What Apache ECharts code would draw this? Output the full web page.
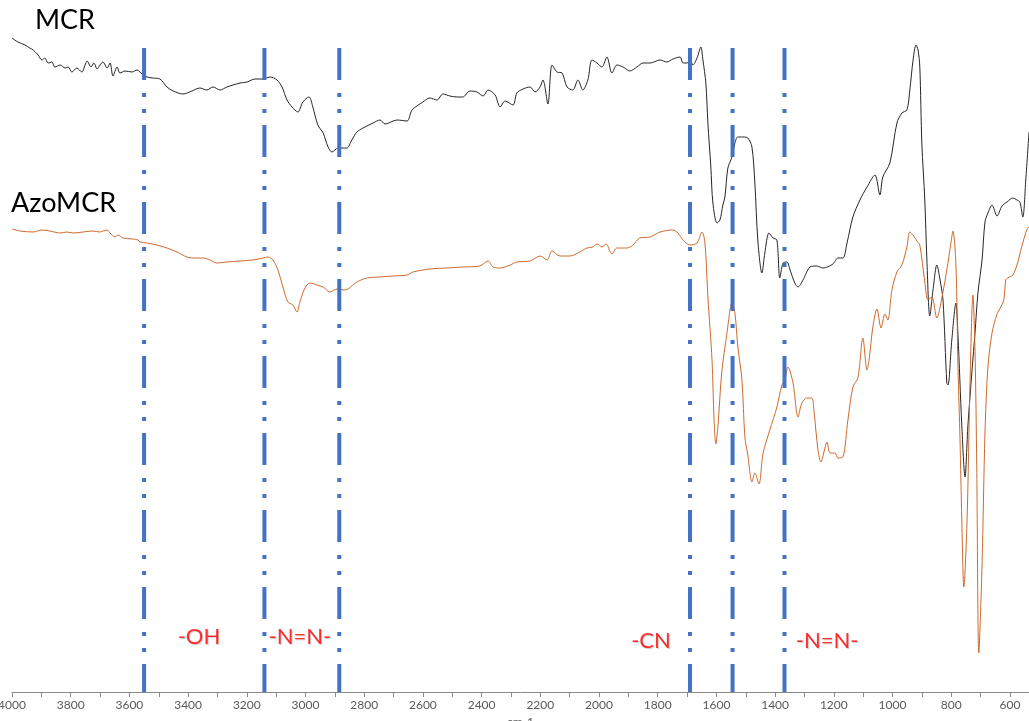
<!DOCTYPE html>
<html>
<head>
<meta charset="utf-8">
<title>FTIR: MCR / AzoMCR</title>
<script src="https://cdn.jsdelivr.net/npm/echarts@6/dist/echarts.min.js"></script>
<style>
  html, body { margin: 0; padding: 0; background: #ffffff; }
  #chart { width: 1029px; height: 721px; }
</style>
</head>
<body>
<div id="chart"></div>
<script>
// Wavenumber (cm-1) and transmittance (a.u., traces offset vertically)
const mcrWn = [4000,3980,3956,3939,3928,3911,3898,3888,3877,3864,3854,3836,3819,3809,3796,3779,3762,3751,3744,3731,3721,3710,3700,3690,3676,3666,3656,3642,3632,3615,3591,3574,3557,3540,3520,3496,3472,3451,3417,3387,3360,3336,3315,3291,3268,3247,3223,3199,3172,3145,3121,3097,3080,3063,3046,3026,3009,2988,2975,2958,2940,2923,2910,2889,2876,2859,2842,2825,2804,2770,2746,2729,2688,2654,2637,2600,2576,2552,2532,2508,2484,2464,2440,2416,2395,2378,2354,2337,2320,2293,2280,2259,2235,2218,2201,2191,2174,2160,2143,2126,2109,2089,2072,2055,2038,2024,2007,1990,1973,1956,1939,1918,1895,1871,1850,1826,1792,1769,1748,1724,1714,1700,1690,1680,1666,1653,1646,1636,1629,1619,1612,1598,1588,1578,1571,1561,1547,1537,1527,1510,1493,1479,1469,1459,1445,1435,1421,1407,1394,1384,1373,1360,1349,1333,1322,1305,1281,1258,1237,1203,1186,1169,1155,1135,1111,1087,1060,1043,1033,1009,985,968,951,941,930,920,913,907,900,890,883,873,862,849,838,828,815,811,798,784,777,764,753,743,729,719,709,695,685,675,661,644,627,610,590,576,566,556,546,535];
const mcrT = [65.4,65.0,64.7,64.4,64.2,63.7,63.2,63.4,62.9,63.0,62.5,62.7,62.4,62.5,62.0,62.4,62.0,62.7,63.1,62.5,62.9,62.3,62.7,63.0,62.4,62.9,61.6,62.5,61.9,62.1,62.0,62.2,61.8,61.5,61.4,61.3,60.5,60.1,59.8,60.1,60.4,60.2,60.5,60.2,60.5,60.7,60.9,61.0,61.3,61.3,61.5,61.2,60.5,59.2,58.5,58.0,59.0,59.5,58.5,56.7,55.9,54.5,54.0,54.4,54.4,54.4,55.2,56.0,56.4,56.9,57.2,56.8,57.2,57.1,58.2,59.0,59.4,59.2,59.8,59.6,59.5,59.5,60.1,60.0,59.6,60.2,59.7,58.5,59.1,58.7,59.9,60.3,60.5,60.0,60.5,61.2,58.8,62.7,62.0,61.9,60.5,60.2,61.2,60.2,61.2,63.2,62.9,62.5,63.5,61.9,62.7,62.5,62.1,62.5,62.9,62.9,63.2,63.0,63.3,63.5,62.9,62.9,63.2,62.7,63.4,64.5,63.2,60.9,56.9,52.5,48.9,46.9,47.2,48.7,49.5,52.4,53.5,54.9,55.5,55.5,55.4,54.5,50.9,45.2,41.9,43.9,45.9,45.4,45.2,41.4,42.9,43.0,42.2,40.9,40.5,41.2,42.5,42.6,42.4,42.8,43.4,43.4,44.9,47.5,49.2,50.5,51.7,49.7,51.5,52.9,56.9,57.9,58.2,60.2,63.2,64.7,64.2,62.5,54.8,49.2,43.3,37.6,40.2,42.7,41.2,39.2,30.9,30.7,35.2,38.9,35.7,26.7,21.5,26.7,32.2,35.9,39.9,43.2,47.0,47.9,48.7,47.6,48.6,49.0,49.4,49.2,49.0,47.5,51.2,56.0];

const azoWn = [4000,3973,3928,3898,3871,3836,3813,3792,3758,3724,3700,3690,3676,3666,3649,3639,3622,3588,3571,3564,3540,3506,3472,3438,3404,3383,3349,3325,3302,3268,3223,3179,3145,3128,3111,3094,3077,3060,3043,3029,3019,3002,2985,2961,2940,2917,2893,2866,2825,2791,2746,2702,2654,2634,2576,2518,2464,2406,2378,2361,2337,2303,2280,2235,2201,2177,2160,2133,2099,2072,2041,2021,2007,1990,1976,1956,1939,1905,1884,1861,1826,1792,1748,1731,1714,1690,1666,1649,1639,1629,1615,1608,1602,1595,1582,1564,1547,1537,1527,1513,1503,1493,1479,1469,1455,1441,1418,1394,1377,1367,1356,1339,1322,1309,1292,1275,1268,1254,1244,1223,1213,1196,1186,1169,1152,1135,1118,1101,1087,1080,1067,1053,1039,1026,1016,1002,985,968,951,941,930,917,907,890,879,866,849,832,815,801,794,784,777,770,764,757,746,736,726,719,713,706,695,685,675,661,644,633,621,614,607,590,576,560,543,535];
const azoT = [46.3,46.1,46.0,46.2,46.1,45.9,46.0,45.9,46.0,46.1,46.0,46.1,46.2,45.9,45.5,45.7,45.4,45.3,45.2,45.0,44.9,44.7,44.4,44.0,43.5,43.4,43.4,43.2,42.9,43.0,43.1,43.2,43.4,43.5,43.2,42.2,40.5,39.0,38.7,38.0,39.0,40.4,40.9,40.7,40.5,40.0,40.3,40.2,41.0,41.4,41.5,41.6,41.7,42.0,42.3,42.4,42.5,42.6,43.1,42.5,42.4,42.7,43.0,43.1,43.6,43.2,44.1,43.6,43.6,43.9,44.4,44.5,44.8,44.5,44.8,43.8,44.4,44.4,44.7,45.4,45.5,46.0,46.2,45.9,45.2,44.7,44.9,46.0,44.9,39.5,33.2,27.2,24.8,26.5,31.9,35.9,38.9,37.9,34.5,31.2,25.5,23.7,21.0,21.9,20.8,23.9,26.2,28.5,30.7,31.2,32.5,30.9,27.5,28.9,29.4,29.4,28.2,24.2,23.0,25.0,23.9,23.9,23.4,23.5,27.2,30.5,31.4,35.4,32.2,33.2,36.5,38.3,36.4,37.8,37.2,40.2,42.0,42.7,44.5,46.0,45.7,45.1,44.7,41.0,39.2,39.5,37.4,39.4,42.2,44.9,46.1,42.7,32.5,25.2,17.2,10.5,17.2,30.9,39.7,34.2,22.5,3.9,12.7,25.9,32.5,35.9,37.8,38.4,39.2,41.2,41.4,41.7,42.7,44.5,46.2,46.5];

// Band assignments: marker positions (cm-1) and annotations
const bandWn = [3550, 3140, 2885, 1690, 1545, 1368];
const bandTop = 64.4;
const groupLabels = ['-OH', '-N=N-', '-CN', '-N=N-'];
const groupWn = [3363, 3019, 1823, 1223];
const groupT = [5.5, 5.5, 5.1, 5.1];

// Axis ticks every 100 cm-1, labels every 200 cm-1
const tickValues = [];
for (let v = 600; v <= 4000; v += 100) tickValues.push(v);
const labelValues = tickValues.filter(v => v % 200 === 0);

const FONT = 'Lato, "Open Sans", sans-serif';

const zip = (xs, ys) => xs.map((x, i) => [x, ys[i]]);

const bandSeries = bandWn.map(w => ({
  type: 'line',
  data: [[w, bandTop], [w, 0]],
  showSymbol: false,
  silent: true,
  z: 5,
  lineStyle: { color: '#4472C4', width: 4, type: [32, 13, 4, 12, 4, 12], cap: 'butt' }
}));

const chart = echarts.init(document.getElementById('chart'), null, { renderer: 'canvas' });
chart.setOption({
  backgroundColor: '#ffffff',
  animation: false,
  grid: { left: 12, right: 0, top: 0, bottom: 29, containLabel: false, outerBoundsMode: 'none' },
  xAxis: {
    type: 'value',
    inverse: true,
    min: 535,
    max: 4000,
    name: 'cm-1',
    nameLocation: 'middle',
    nameGap: 20,
    nameTextStyle: { color: '#595959', fontSize: 12, fontFamily: FONT },
    axisLine: { show: true, onZero: false, lineStyle: { color: '#8a8a8a', width: 1 } },
    axisTick: { show: true, length: 5, customValues: tickValues, lineStyle: { color: '#8a8a8a' } },
    axisLabel: {
      customValues: labelValues,
      formatter: v => String(v),
      color: '#595959',
      fontSize: 12,
      fontFamily: FONT,
      margin: 7
    },
    splitLine: { show: false }
  },
  yAxis: { type: 'value', min: 0, max: 69.2, show: false },
  graphic: [
    { type: 'text', left: 35, top: 7, style: { text: 'MCR', font: '27px ' + FONT, fill: '#000000' } },
    { type: 'text', left: 11, top: 190, style: { text: 'AzoMCR', font: '27px ' + FONT, fill: '#000000' } }
  ],
  series: [
    {
      name: 'MCR',
      type: 'line',
      data: zip(mcrWn, mcrT),
      showSymbol: false,
      smooth: 0.3,
      clip: false,
      z: 3,
      lineStyle: { color: '#262626', width: 1 }
    },
    {
      name: 'AzoMCR',
      type: 'line',
      data: zip(azoWn, azoT),
      showSymbol: false,
      smooth: 0.3,
      clip: false,
      z: 3,
      lineStyle: { color: '#cf6a2d', width: 1 }
    },
    ...bandSeries,
    {
      type: 'scatter',
      data: groupLabels.map((t, i) => ({ name: t, value: [groupWn[i], groupT[i]] })),
      symbolSize: 0,
      silent: true,
      z: 6,
      label: {
        show: true,
        position: 'inside',
        formatter: p => p.name,
        color: '#ff0000',
        fontSize: 22,
        fontFamily: FONT,
        textShadowColor: 'rgba(0,0,0,0.25)',
        textShadowBlur: 1,
        textShadowOffsetX: 1,
        textShadowOffsetY: 1
      }
    }
  ]
});
</script>
</body>
</html>
